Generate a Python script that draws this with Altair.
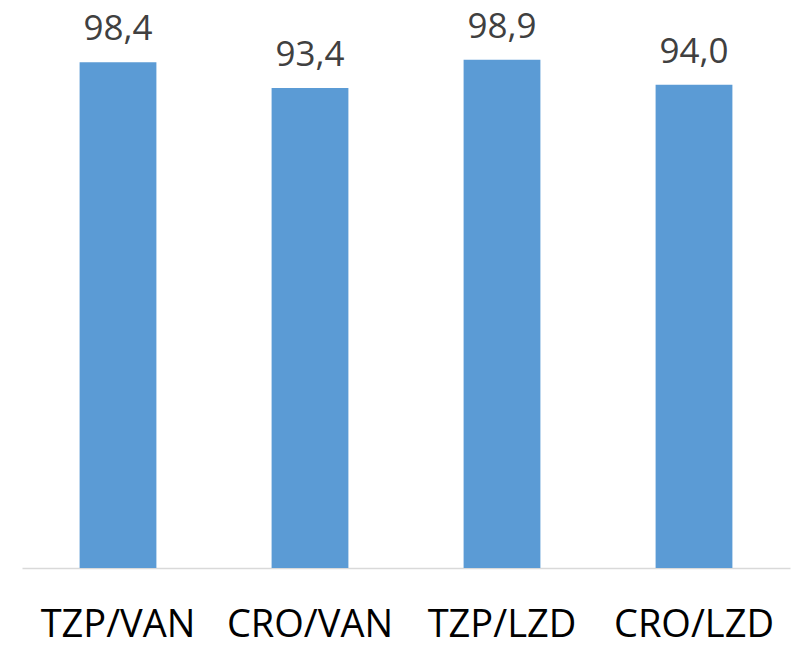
import altair as alt
import pandas as pd

# Bar categories and their values (percent)
regimens = ["TZP/VAN", "CRO/VAN", "TZP/LZD", "CRO/LZD"]
values = [98.4, 93.4, 98.9, 94.0]

df = pd.DataFrame({"regimen": regimens, "value": values})
# decimal comma labels, built from the same values as the bars
df["label"] = [f"{v:.1f}".replace(".", ",") for v in values]

FONT = "Open Sans"

x_enc = alt.X(
    "regimen:N",
    sort=regimens,
    title=None,
    scale=alt.Scale(paddingInner=0.6, paddingOuter=0.3),
    axis=alt.Axis(
        labelAngle=0,
        labelFont=FONT,
        labelFontSize=38,
        labelColor="#000000",
        labelBaseline="alphabetic",
        labelPadding=68,
        ticks=False,
        domainColor="#d9d9d9",
        domainWidth=1.5,
        grid=False,
    ),
)
y_enc = alt.Y(
    "value:Q",
    scale=alt.Scale(domain=[0, 100], nice=False, zero=True),
    axis=None,
)

bars = alt.Chart(df).mark_bar(color="#5B9BD5").encode(x=x_enc, y=y_enc)

text = alt.Chart(df).mark_text(
    font=FONT,
    fontSize=35,
    color="#404040",
    baseline="alphabetic",
    dy=-22,
).encode(x=alt.X("regimen:N", sort=regimens), y="value:Q", text="label:N")

chart = (
    alt.layer(bars, text)
    .properties(
        width=768,
        height=514,
        background="white",
        autosize=alt.AutoSizeParams(type="none"),
        padding={"left": 22, "top": 54, "right": 10, "bottom": 78},
    )
    .configure_view(strokeWidth=0, stroke="transparent")
)

chart.save("out.html", embed_options={"renderer": "svg", "actions": False})
